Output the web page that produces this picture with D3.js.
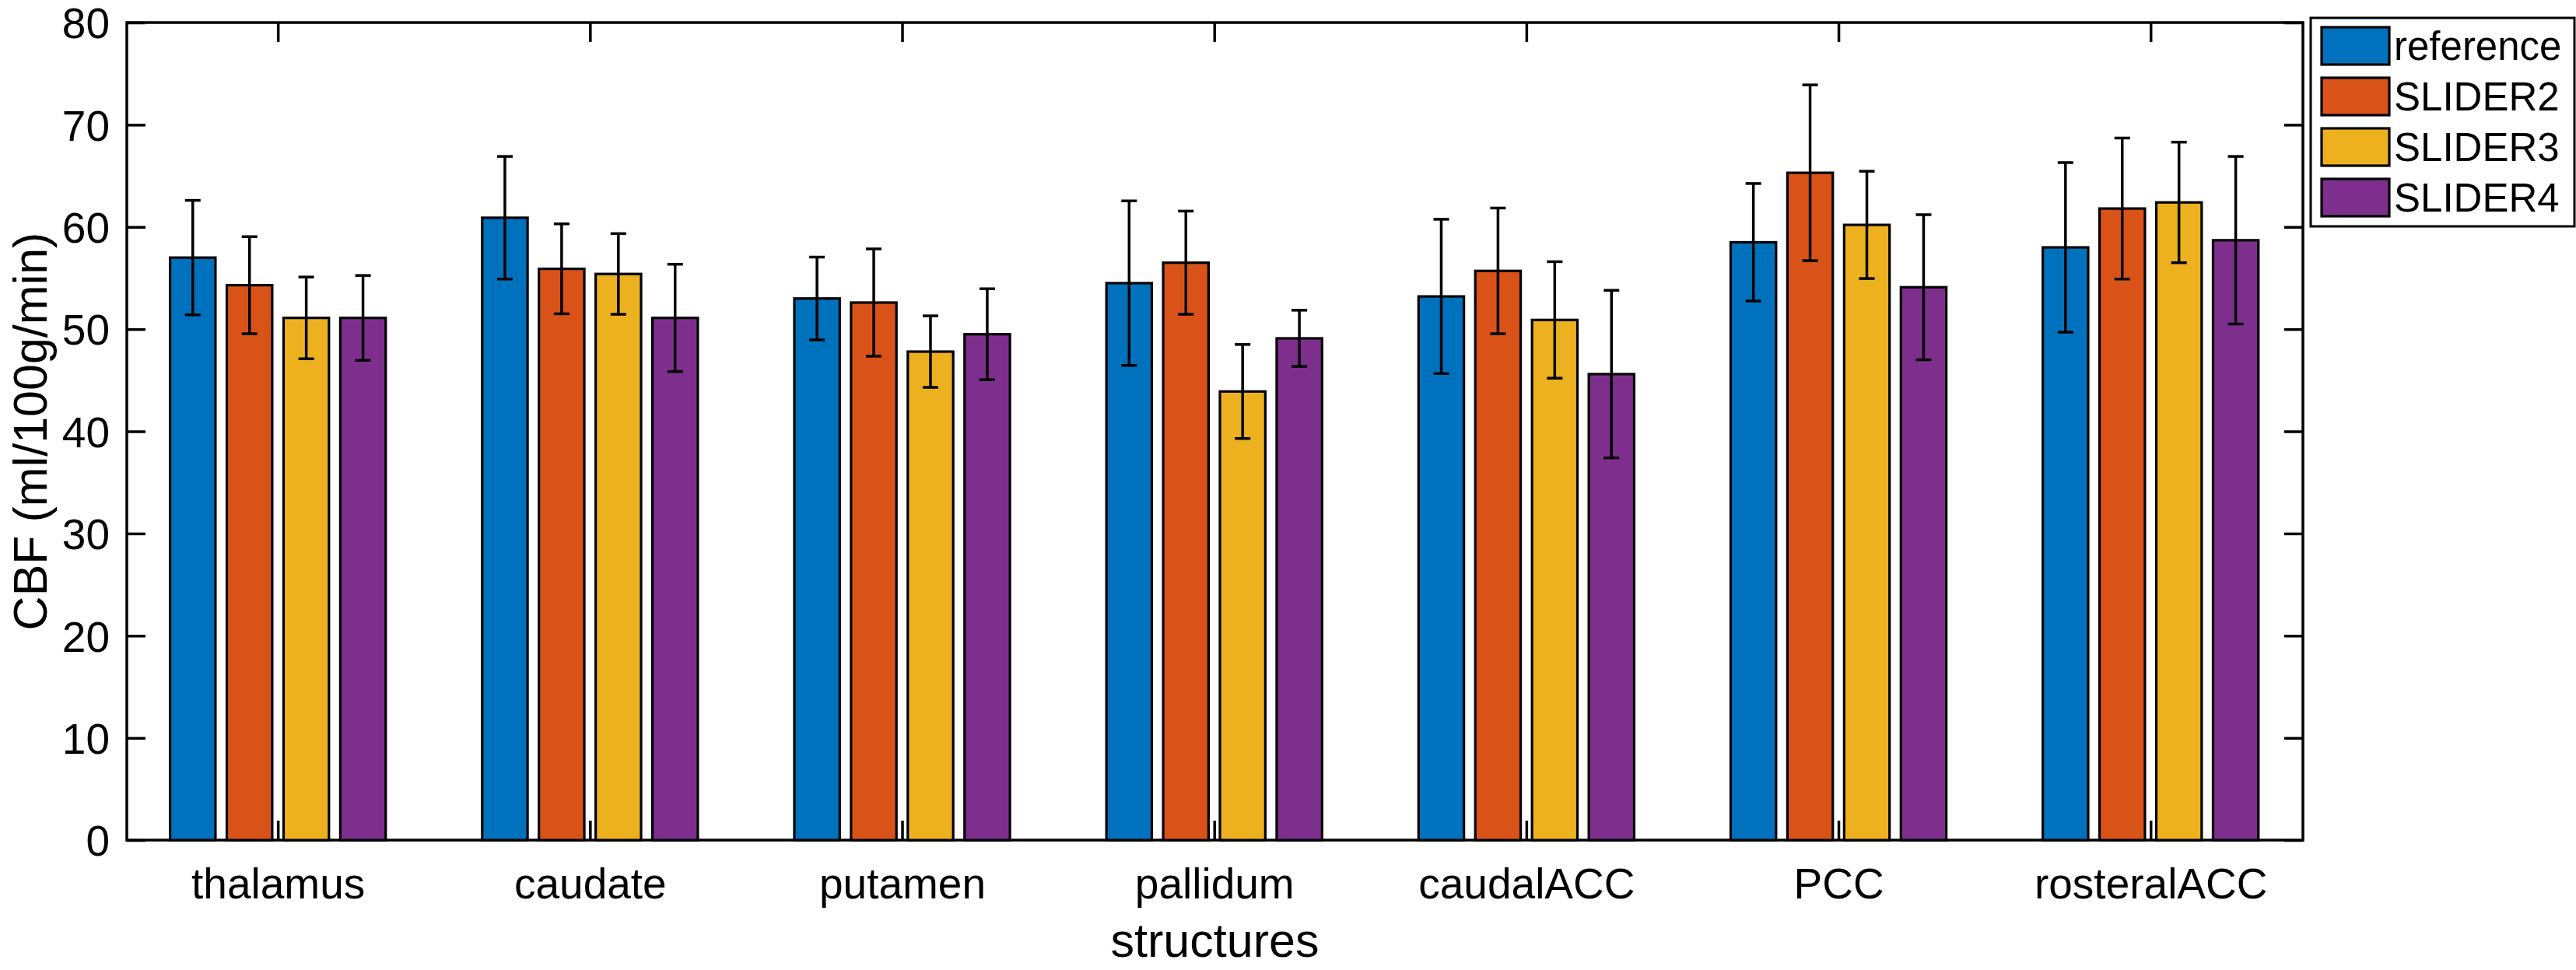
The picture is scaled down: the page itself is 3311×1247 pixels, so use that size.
<!DOCTYPE html>
<html lang="en">
<head>
<meta charset="utf-8">
<title>CBF per structure</title>
<script src="https://cdn.jsdelivr.net/npm/d3@7"></script>
<style>
  body { margin: 0; background: #fff; }
  svg { display: block; font-family: "Liberation Sans", Arial, Helvetica, sans-serif; }
  .tick text { fill: #000; }
</style>
</head>
<body>
<div id="chart"></div>
<script>
// categories and series
var structures = ["thalamus", "caudate", "putamen", "pallidum", "caudalACC", "PCC", "rosteralACC"];
var series = ["reference", "SLIDER2", "SLIDER3", "SLIDER4"];
var colors = ["#0072BD", "#D95319", "#EDB120", "#7E2F8E"];
var yTicks = [0, 10, 20, 30, 40, 50, 60, 70, 80];

// mean CBF (ml/100g/min)
var meanReference = [57.0, 60.9, 53.0, 54.5, 53.2, 58.5, 58.0];
var meanSlider2   = [54.3, 55.9, 52.6, 56.5, 55.7, 65.3, 61.8];
var meanSlider3   = [51.1, 55.4, 47.8, 43.9, 50.9, 60.2, 62.4];
var meanSlider4   = [51.1, 51.1, 49.5, 49.1, 45.6, 54.1, 58.7];

// error bar half lengths
var sdReference = [5.6, 6.0, 4.05, 8.05, 7.55, 5.75, 8.3];
var sdSlider2   = [4.75, 4.4, 5.25, 5.05, 6.15, 8.6, 6.9];
var sdSlider3   = [4.0, 3.95, 3.5, 4.6, 5.7, 5.25, 5.9];
var sdSlider4   = [4.15, 5.25, 4.45, 2.75, 8.2, 7.1, 8.2];

var means = [meanReference, meanSlider2, meanSlider3, meanSlider4];
var sds = [sdReference, sdSlider2, sdSlider3, sdSlider4];

var w = 3311, h = 1247;
// plot box (window.top is taken, so prefix these)
var pLeft = 163, pRight = 2960, pTop = 29, pBottom = 1080;

var svg = d3.select("#chart").append("svg")
    .attr("width", w)
    .attr("height", h);

svg.append("rect").attr("width", w).attr("height", h).attr("fill", "#fff");

// x in group-index units (1..7), like matlab
var x = d3.scaleLinear().domain([0.516, 7.488]).range([pLeft, pRight]);
var y = d3.scaleLinear().domain([0, 80]).range([pBottom, pTop]);

// offsets of the 4 bars inside a group
var sub = d3.scaleBand().domain(series)
    .range([-0.3636, 0.3636])
    .paddingInner(0.2)
    .paddingOuter(0.1);

var idx = structures.map(function(d, i) { return i + 1; });

// axes (drawn under the bars)
var gLeft = svg.append("g").attr("transform", "translate(" + pLeft + ",0)")
    .call(d3.axisLeft(y).tickValues(yTicks).tickSize(-24).tickPadding(22));
var gRight = svg.append("g").attr("transform", "translate(" + pRight + ",0)")
    .call(d3.axisRight(y).tickValues(yTicks).tickSize(-24).tickFormat(""));
var gTop = svg.append("g").attr("transform", "translate(0," + pTop + ")")
    .call(d3.axisTop(x).tickValues(idx).tickSize(-25).tickFormat(""));
var gBottom = svg.append("g").attr("transform", "translate(0," + pBottom + ")")
    .call(d3.axisBottom(x).tickValues(idx).tickSize(-25).tickPadding(36)
        .tickFormat(function(d) { return structures[d - 1]; }));

[gLeft, gRight, gTop, gBottom].forEach(function(g) {
    g.select(".domain").remove();
    g.selectAll(".tick line").attr("stroke", "#000").attr("stroke-width", 3.5);
    g.selectAll(".tick text").style("font-size", "55px").attr("font-family", null);
});
gLeft.selectAll(".tick text").attr("dy", "0.36em");

svg.append("rect")
    .attr("x", pLeft).attr("y", pTop)
    .attr("width", pRight - pLeft).attr("height", pBottom - pTop)
    .attr("fill", "none").attr("stroke", "#000").attr("stroke-width", 3.5);

// bars
series.forEach(function(s, k) {
    var g = svg.append("g");
    g.selectAll("rect")
        .data(means[k])
        .enter()
        .append("rect")
        .attr("x", function(d, i) { return x(i + 1 + sub(s)); })
        .attr("width", function() { return x(1 + sub.bandwidth()) - x(1); })
        .attr("y", function(d) { return y(d); })
        .attr("height", function(d) { return y(0) - y(d); })
        .attr("fill", colors[k])
        .attr("stroke", "#000")
        .attr("stroke-width", 3.2);
});

// error bars
series.forEach(function(s, k) {
    var g = svg.append("g").attr("stroke", "#000").attr("stroke-width", 3.5);
    means[k].forEach(function(m, i) {
        var cx = x(i + 1 + sub(s) + sub.bandwidth() / 2);
        var lo = y(m - sds[k][i]), hi = y(m + sds[k][i]);
        g.append("line").attr("x1", cx).attr("x2", cx).attr("y1", lo).attr("y2", hi);
        g.append("line").attr("x1", cx - 10).attr("x2", cx + 10).attr("y1", lo).attr("y2", lo);
        g.append("line").attr("x1", cx - 10).attr("x2", cx + 10).attr("y1", hi).attr("y2", hi);
    });
});

// axis labels
svg.append("text")
    .attr("x", (pLeft + pRight) / 2)
    .attr("y", 1230)
    .attr("text-anchor", "middle")
    .style("font-size", "61px")
    .text("structures");

svg.append("text")
    .attr("transform", "translate(60," + (pTop + pBottom) / 2 + ") rotate(-90)")
    .attr("text-anchor", "middle")
    .style("font-size", "61px")
    .text("CBF (ml/100g/min)");

// legend
var legend = svg.append("g");
legend.append("rect")
    .attr("x", 2970).attr("y", 23)
    .attr("width", 339).attr("height", 268)
    .attr("fill", "#fff").attr("stroke", "#000").attr("stroke-width", 3);

series.forEach(function(s, k) {
    var cy = 59 + k * 65;
    legend.append("rect")
        .attr("x", 2984).attr("y", cy - 24)
        .attr("width", 87).attr("height", 48)
        .attr("fill", colors[k]).attr("stroke", "#000").attr("stroke-width", 3.2);
    legend.append("text")
        .attr("x", 3077).attr("y", cy)
        .attr("dy", "0.36em")
        .style("font-size", "51px")
        .text(s);
});
</script>
</body>
</html>
